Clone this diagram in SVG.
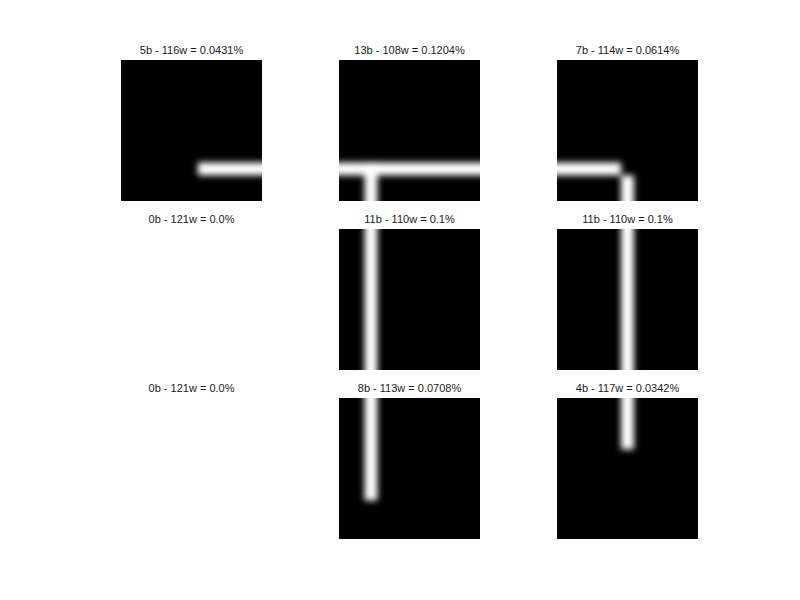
<svg xmlns="http://www.w3.org/2000/svg" width="800" height="600" viewBox="0 0 800 600">
  <style>
    .title { font-family: "Liberation Sans", Arial, sans-serif; font-size: 11px; fill: #1a1a1a; text-anchor: middle; }
    .bg { fill: #000000; }
    .px { fill: #ffffff; }
  </style>
  <defs>
    <filter id="blur" filterUnits="userSpaceOnUse" x="0" y="0" width="800" height="600">
      <feGaussianBlur stdDeviation="3"/>
    </filter>
    <clipPath id="c11"><rect x="121" y="60" width="141" height="141"/></clipPath>
    <clipPath id="c12"><rect x="339" y="60" width="141" height="141"/></clipPath>
    <clipPath id="c13"><rect x="557" y="60" width="141" height="141"/></clipPath>
    <clipPath id="c22"><rect x="339" y="229" width="141" height="141"/></clipPath>
    <clipPath id="c23"><rect x="557" y="229" width="141" height="141"/></clipPath>
    <clipPath id="c32"><rect x="339" y="398" width="141" height="141"/></clipPath>
    <clipPath id="c33"><rect x="557" y="398" width="141" height="141"/></clipPath>
  </defs>
  <rect width="800" height="600" fill="#ffffff"/>

  <g id="panel-1-1">
    <text class="title" x="191.5" y="54">5b - 116w = 0.0431%</text>
    <g clip-path="url(#c11)">
      <rect class="bg" x="121" y="60" width="141" height="141"/>
      <g filter="url(#blur)">
        <rect class="px" x="197.9" y="162.5" width="90" height="12.82"/>
      </g>
    </g>
  </g>

  <g id="panel-1-2">
    <text class="title" x="409.5" y="54">13b - 108w = 0.1204%</text>
    <g clip-path="url(#c12)">
      <rect class="bg" x="339" y="60" width="141" height="141"/>
      <g filter="url(#blur)">
        <rect class="px" x="320" y="162.5" width="180" height="12.82"/>
        <rect class="px" x="364.6" y="162.5" width="12.82" height="60"/>
      </g>
    </g>
  </g>

  <g id="panel-1-3">
    <text class="title" x="627.5" y="54">7b - 114w = 0.0614%</text>
    <g clip-path="url(#c13)">
      <rect class="bg" x="557" y="60" width="141" height="141"/>
      <g filter="url(#blur)">
        <rect class="px" x="535" y="162.5" width="86.1" height="12.82"/>
        <rect class="px" x="621.1" y="175.4" width="12.82" height="45"/>
      </g>
    </g>
  </g>

  <g id="panel-2-1">
    <text class="title" x="191.5" y="223">0b - 121w = 0.0%</text>
  </g>

  <g id="panel-2-2">
    <text class="title" x="409.5" y="223">11b - 110w = 0.1%</text>
    <g clip-path="url(#c22)">
      <rect class="bg" x="339" y="229" width="141" height="141"/>
      <g filter="url(#blur)">
        <rect class="px" x="364.6" y="210" width="12.82" height="180"/>
      </g>
    </g>
  </g>

  <g id="panel-2-3">
    <text class="title" x="627.5" y="223">11b - 110w = 0.1%</text>
    <g clip-path="url(#c23)">
      <rect class="bg" x="557" y="229" width="141" height="141"/>
      <g filter="url(#blur)">
        <rect class="px" x="621.1" y="210" width="12.82" height="180"/>
      </g>
    </g>
  </g>

  <g id="panel-3-1">
    <text class="title" x="191.5" y="392">0b - 121w = 0.0%</text>
  </g>

  <g id="panel-3-2">
    <text class="title" x="409.5" y="392">8b - 113w = 0.0708%</text>
    <g clip-path="url(#c32)">
      <rect class="bg" x="339" y="398" width="141" height="141"/>
      <g filter="url(#blur)">
        <rect class="px" x="364.6" y="375" width="12.82" height="125.5"/>
      </g>
    </g>
  </g>

  <g id="panel-3-3">
    <text class="title" x="627.5" y="392">4b - 117w = 0.0342%</text>
    <g clip-path="url(#c33)">
      <rect class="bg" x="557" y="398" width="141" height="141"/>
      <g filter="url(#blur)">
        <rect class="px" x="621.1" y="375" width="12.82" height="74.3"/>
      </g>
    </g>
  </g>
</svg>
